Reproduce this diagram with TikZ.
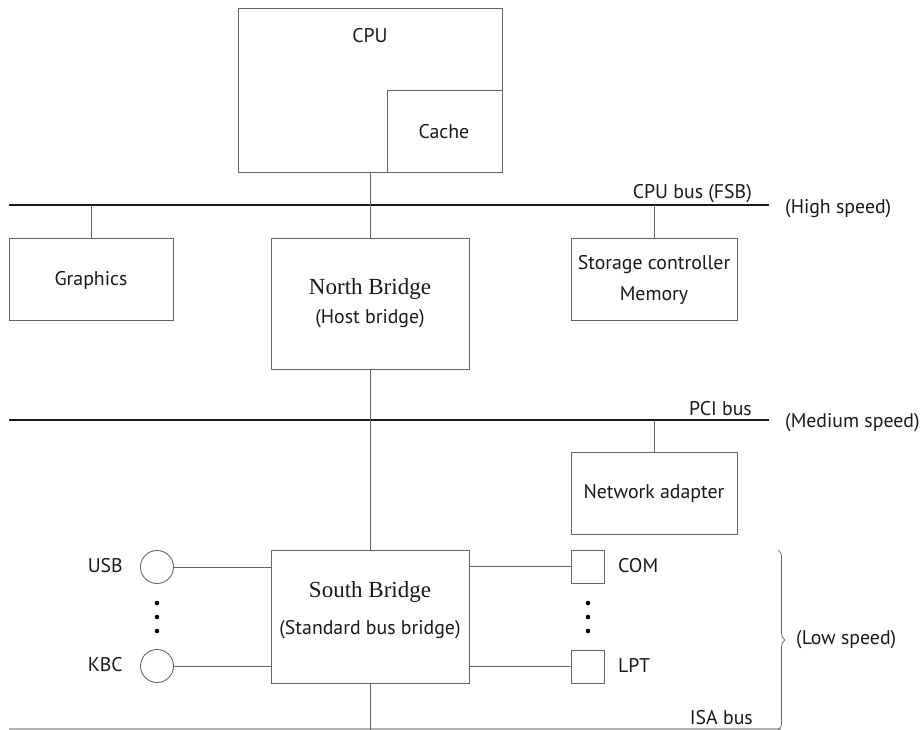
\documentclass[tikz,border=0pt]{standalone}
\usepackage{fontspec}
\setmainfont{PT Sans}
\newfontfamily\serifface{Liberation Serif}
\usetikzlibrary{decorations.pathreplacing}
\begin{document}
\begin{tikzpicture}[x=1pt,y=-1pt,
  box/.style={draw=black!60, line width=0.9pt, inner sep=0pt, outer sep=0pt, anchor=north west},
  port/.style={draw=black!60, line width=0.9pt, inner sep=0pt, outer sep=0pt, minimum size=33pt},
  bus/.style={line width=2.6pt, draw=black!90},
  link/.style={draw=black!60, line width=0.8pt},
  lbl/.style={font=\fontsize{19.8}{22}\selectfont, text=black!90, inner sep=0pt},
  serlbl/.style={font=\serifface\fontsize{23}{25}\selectfont, text=black!90, inner sep=0pt},
  dot/.style={circle, fill=black, inner sep=0pt, minimum size=4.6pt}]
\useasboundingbox (0,0) rectangle (922,730);
% CPU
\node[box, minimum width=264pt, minimum height=164pt] (cpu) at (238,8) {};
\node[box, minimum width=115pt, minimum height=82pt] (cache) at (387,90) {};
\node[lbl] (cputxt) at (370,36) {CPU};
\node[lbl] (cachetxt) at (444,132) {Cache};
% buses
\coordinate (fsbL) at (9,205);
\coordinate (fsbR) at (769,205);
\coordinate (pciL) at (9,420);
\coordinate (pciR) at (769,420);
\draw[bus] (fsbL) -- (fsbR);
\draw[bus] (pciL) -- (pciR);
\node[lbl, anchor=base east] (fsbtxt) at (752,199) {CPU bus (FSB)};
\node[lbl, anchor=base west] (hightxt) at (785,214) {(High speed)};
\node[lbl, anchor=base east] (pcitxt) at (752,415) {PCI bus};
\node[lbl, anchor=base west] (medtxt) at (785,428) {(Medium speed)};
% second row
\node[box, minimum width=164pt, minimum height=82pt] (gfx) at (9,238) {};
\node[lbl] (gfxtxt) at (91,280) {Graphics};
\node[box, minimum width=198pt, minimum height=131pt] (nb) at (271,238) {};
\node[serlbl] (nbtxt) at (370,289) {North Bridge};
\node[lbl] (nbtxt2) at (370,319) {(Host bridge)};
\node[box, minimum width=166pt, minimum height=82pt] (stor) at (571,238) {};
\node[lbl] (stortxt) at (654,265) {Storage controller};
\node[lbl] (memtxt) at (654,296) {Memory};
% network adapter
\node[box, minimum width=166pt, minimum height=82pt] (net) at (571,452) {};
\node[lbl] (nettxt) at (654,493) {Network adapter};
% south bridge
\node[box, minimum width=198pt, minimum height=133pt] (sb) at (271,550) {};
\node[serlbl] (sbtxt) at (370,592) {South Bridge};
\node[lbl] (sbtxt2) at (370,630) {(Standard bus bridge)};
% ports
\node[port, circle] (usb) at (157,567) {};
\node[port, circle] (kbc) at (157,666) {};
\node[port, rectangle] (com) at (587.5,566.5) {};
\node[port, rectangle] (lpt) at (587.5,666.5) {};
\node[lbl, anchor=east] (usbtxt) at (123,566) {USB};
\node[lbl, anchor=east] (kbctxt) at (123,665) {KBC};
\node[lbl, anchor=west] (comtxt) at (618,566) {COM};
\node[lbl, anchor=west] (lpttxt) at (618,665) {LPT};
\node[dot] (ld1) at (157,603) {};
\node[dot] (ld2) at (157,617) {};
\node[dot] (ld3) at (157,631) {};
\node[dot] (rd1) at (588,603) {};
\node[dot] (rd2) at (588,617) {};
\node[dot] (rd3) at (588,631) {};
% ISA bus
\coordinate (bot) at (370,730);
\coordinate (isaL) at (9,729);
\coordinate (isaR) at (781,729);
\draw[draw=black!30, line width=1.2pt] (isaL) -- (isaR);
\node[lbl, anchor=base east] (isatxt) at (753,724) {ISA bus};
% connectors
\draw[link] (cpu.south) -- (nb.north);
\draw[link] (gfx.north) -- (gfx.north |- fsbL);
\draw[link] (stor.north) -- (stor.north |- fsbL);
\draw[link] (nb.south) -- (sb.north);
\draw[link] (net.north) -- (net.north |- pciL);
\draw[link] (sb.south) -- (bot);
\draw[link] (usb.east) -- (usb.east -| sb.west);
\draw[link] (kbc.east) -- (kbc.east -| sb.west);
\draw[link] (com.west) -- (com.west -| sb.east);
\draw[link] (lpt.west) -- (lpt.west -| sb.east);
% brace
\coordinate (brT) at (778,550);
\coordinate (brB) at (778,730);
\draw[draw=black!60, line width=0.7pt, decorate, decoration={brace, amplitude=7pt}] (brT) -- (brB);
\node[lbl, anchor=west] (lowtxt) at (796,640) {(Low speed)};
\end{tikzpicture}
\end{document}
